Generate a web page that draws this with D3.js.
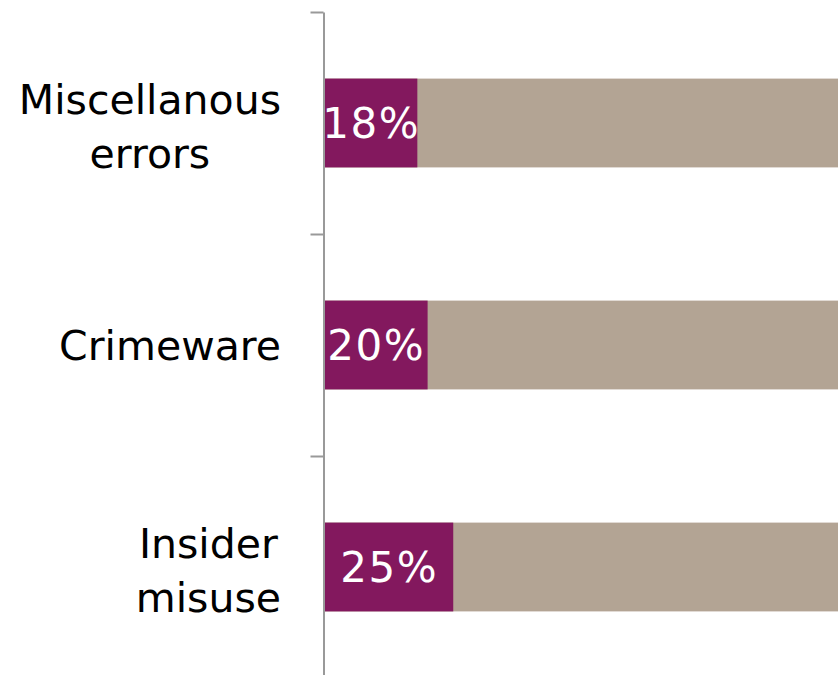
<!DOCTYPE html>
<html>
<head>
<meta charset="utf-8">
<script src="https://cdn.jsdelivr.net/npm/d3@7"></script>
<style>
  html, body { margin: 0; padding: 0; background: #fff; }
  svg { display: block; }
</style>
</head>
<body>
<svg id="chart" width="840" height="675"></svg>
<script>
const categories = [["Miscellanous", "errors"], ["Crimeware"], ["Insider", "misuse"]];
const values = [18, 20, 25];
const totals = [100, 100, 100];
const valueLabels = ["18%", "20%", "25%"];

const svg = d3.select("#chart");
const font = "'DejaVu Sans', Verdana, sans-serif";
const axisX = 323.5;

const y = d3.scaleBand()
  .domain(d3.range(categories.length))
  .range([12, 678])
  .paddingInner(0.6)
  .paddingOuter(0.3);

const yEdge = d3.scaleLinear().domain([0, categories.length]).range([12, 678]);

const x = d3.scaleLinear().domain([0, 100]).range([325, 838]);

// remainder bars
svg.append("g").selectAll("rect")
  .data(totals)
  .join("rect")
  .attr("x", x(0))
  .attr("y", (d, i) => y(i))
  .attr("width", d => x(d) - x(0))
  .attr("height", y.bandwidth())
  .attr("fill", "#B3A494");

// value bars
svg.append("g").selectAll("rect")
  .data(values)
  .join("rect")
  .attr("x", x(0))
  .attr("y", (d, i) => y(i))
  .attr("width", d => x(d) - x(0))
  .attr("height", y.bandwidth())
  .attr("fill", "#83185E");

// value labels
svg.append("g").selectAll("text")
  .data(values)
  .join("text")
  .attr("x", d => (x(0) + x(d)) / 2)
  .attr("y", (d, i) => y(i) + y.bandwidth() / 2)
  .attr("dy", "0.36em")
  .attr("text-anchor", "middle")
  .attr("fill", "#fff")
  .style("font-family", font)
  .style("font-size", "42px")
  .style("letter-spacing", "1.5px")
  .text((d, i) => valueLabels[i]);

// axis
const axis = d3.axisLeft(yEdge)
  .tickValues(d3.range(categories.length + 1))
  .tickSize(13)
  .tickSizeOuter(0)
  .tickFormat("");
const gAxis = svg.append("g")
  .attr("transform", `translate(${axisX},0)`)
  .call(axis);
gAxis.selectAll("path, line").attr("stroke", "#999").attr("stroke-width", 2);

// category labels: block right-aligned, lines centred within block
const lineH = 54;
const rightEdge = 281;
const lab = svg.append("g").selectAll("text")
  .data(categories)
  .join("text")
  .attr("text-anchor", "middle")
  .attr("fill", "#000")
  .style("font-family", font)
  .style("font-size", "41px");
lab.each(function(lines, i) {
  const t = d3.select(this);
  const off = -(lines.length - 1) * lineH / 2 + (lines.length > 1 ? 3 : 0);
  const spans = lines.map((s, j) =>
    t.append("tspan")
      .attr("y", y(i) + y.bandwidth() / 2 + off + j * lineH)
      .attr("dy", "0.36em")
      .text(s));
  const w = d3.max(spans, sp => sp.node().getComputedTextLength());
  spans.forEach(sp => sp.attr("x", rightEdge - w / 2));
});
</script>
</body>
</html>
